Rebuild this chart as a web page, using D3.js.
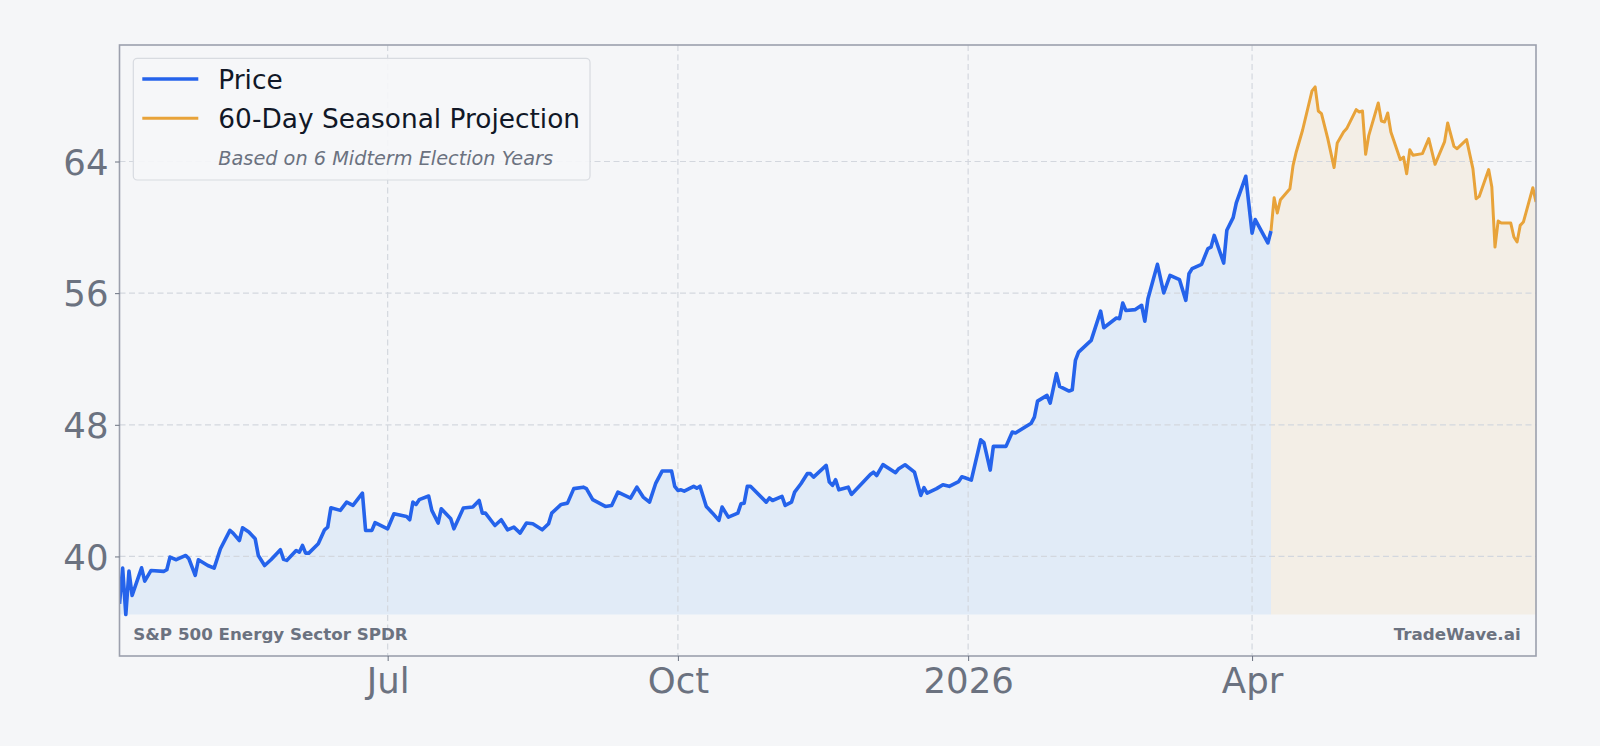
<!DOCTYPE html>
<html>
<head>
<meta charset="utf-8">
<script src="https://cdn.jsdelivr.net/npm/d3@7"></script>
<style>
  html, body { margin: 0; padding: 0; background: #f5f6f8; }
  svg { display: block; font-family: "DejaVu Sans", sans-serif; }
</style>
</head>
<body>
<div id="chart"></div>
<script>
const width = 1600, height = 746;

const startDate = new Date(2025, 3, 7); // first session shown

// Price: calendar-day offset from startDate, close
const priceDay = [
  0, 1, 2, 3, 4, 7, 8, 10, 14, 15, 16, 18, 21, 22, 24, 25, 28, 30, 32, 35,
  36, 38, 39, 41, 43, 44, 46, 48, 51, 52, 53, 56, 57, 58, 59, 60, 63, 65, 66, 67,
  70, 72, 74, 77, 78, 80, 81, 85, 87, 91, 92, 93, 94, 95, 98, 99, 101, 102, 105, 106,
  109, 112, 114, 115, 116, 119, 121, 123, 125, 127, 129, 131, 134, 136, 137, 140, 142, 144, 147, 148,
  150, 154, 156, 158, 162, 164, 166, 168, 170, 172, 175, 176, 177, 178, 179, 182, 183, 184, 186, 188,
  190, 191, 193, 196, 197, 198, 199, 200, 205, 206, 207, 210, 211, 213, 214, 216, 218, 219, 220, 224,
  225, 226, 227, 228, 231, 232, 238, 239, 240, 242, 246, 247, 249, 252, 254, 255, 256, 259, 261, 263,
  266, 267, 268, 270, 273, 274, 276, 277, 281, 283, 284, 289, 290, 291, 294, 295, 297, 298, 301, 302,
  303, 304, 308, 311, 312, 316, 317, 318, 319, 322, 324, 325, 326, 329, 331, 333, 336, 338, 339, 340,
  343, 345, 346, 347, 350, 351, 353, 354, 357, 359, 360, 364, 365
];
const priceValue = [
  37.12, 39.29, 36.47, 39.11, 37.63, 39.31, 38.50, 39.15, 39.09, 39.19, 39.96, 39.80, 40.06, 39.86, 38.85, 39.80, 39.45, 39.29, 40.47, 41.58,
  41.42, 40.97, 41.74, 41.48, 41.08, 40.06, 39.45, 39.80, 40.41, 39.82, 39.76, 40.36, 40.26, 40.67, 40.20, 40.20, 40.77, 41.62, 41.78, 42.96,
  42.80, 43.30, 43.10, 43.85, 41.58, 41.58, 42.05, 41.68, 42.59, 42.43, 42.23, 43.30, 43.16, 43.45, 43.67, 42.80, 42.03, 42.90, 42.29, 41.68,
  42.94, 43.00, 43.40, 42.63, 42.63, 41.88, 42.23, 41.62, 41.78, 41.42, 42.03, 41.99, 41.62, 41.99, 42.63, 43.16, 43.24, 44.12, 44.21, 44.12,
  43.45, 43.04, 43.10, 43.91, 43.55, 44.21, 43.61, 43.30, 44.46, 45.19, 45.19, 44.26, 44.01, 44.05, 43.97, 44.26, 44.15, 44.27, 43.04, 42.63,
  42.19, 43.00, 42.39, 42.63, 43.20, 43.24, 44.26, 44.26, 43.30, 43.55, 43.40, 43.65, 43.10, 43.30, 43.91, 44.42, 45.03, 45.03, 44.82, 45.53,
  44.52, 44.32, 44.66, 44.05, 44.21, 43.77, 44.98, 45.12, 44.92, 45.58, 45.09, 45.33, 45.57, 45.12, 43.71, 44.18, 43.85, 44.12, 44.36, 44.26,
  44.55, 44.84, 44.78, 44.64, 47.09, 46.92, 45.25, 46.69, 46.69, 47.56, 47.50, 48.10, 48.47, 49.44, 49.79, 49.32, 51.11, 50.33, 50.05, 50.13,
  51.91, 52.42, 53.13, 54.91, 53.90, 54.49, 54.45, 55.40, 54.95, 55.00, 55.26, 54.30, 55.66, 57.75, 56.01, 57.08, 56.82, 55.56, 57.18, 57.49,
  57.75, 58.71, 58.80, 59.51, 57.83, 59.82, 60.59, 61.48, 63.10, 59.65, 60.47, 59.05, 59.78
];

// 60-day seasonal projection (based on 6 midterm election years)
const projDay = [
  365, 366, 367, 368, 371, 372, 373, 375, 378, 379, 380, 381, 383, 385, 386, 388, 389, 392, 393, 394,
  395, 396, 399, 400, 401, 402, 403, 406, 407, 408, 409, 410, 413, 415, 417, 420, 421, 423, 424, 427,
  429, 430, 431, 434, 435, 436, 437, 438, 441, 442, 443, 444, 445, 448, 449
];
const projValue = [
  59.78, 61.80, 60.87, 61.68, 62.35, 63.77, 64.58, 65.90, 68.29, 68.53, 67.07, 66.91, 65.39, 63.63, 65.13, 65.79, 66.00, 67.15, 67.01, 67.07,
  64.44, 65.59, 67.56, 66.46, 66.40, 66.95, 65.79, 64.11, 64.27, 63.26, 64.72, 64.38, 64.48, 65.39, 63.83, 65.19, 66.34, 64.92, 64.78, 65.33,
  63.57, 61.74, 61.88, 63.51, 62.45, 58.80, 60.38, 60.26, 60.26, 59.41, 59.11, 60.12, 60.32, 62.41, 61.54
];

const yTickValues = [40, 48, 56, 64];
const xTickDates = [new Date(2025, 6, 1), new Date(2025, 9, 1), new Date(2026, 0, 1), new Date(2026, 3, 1)];
const xTickLabels = ["Jul", "Oct", "2026", "Apr"];
const yLimits = [33.95, 71.08];

const priceColor = "#2563eb", projColor = "#e8a33a", textGray = "#6b7280";

// plot box
const plotLeft = 119.5, plotRight = 1536, plotTop = 45, plotBottom = 656;

const toDate = d => d3.timeDay.offset(startDate, d);
const price = priceDay.map((d, i) => ({ date: toDate(d), value: priceValue[i] }));
const proj = projDay.map((d, i) => ({ date: toDate(d), value: projValue[i] }));

const x = d3.scaleTime()
    .domain([startDate, toDate(d3.max(projDay))])
    .range([plotLeft, plotRight]);

const y = d3.scaleLinear()
    .domain(yLimits)
    .range([plotBottom, plotTop]);

const svg = d3.select("#chart")
    .append("svg")
    .attr("width", width)
    .attr("height", height)
    .attr("viewBox", [0, 0, width, height]);

svg.append("rect").attr("width", width).attr("height", height).attr("fill", "#f5f6f8");

svg.append("clipPath").attr("id", "plot")
    .append("rect")
    .attr("x", plotLeft).attr("y", plotTop)
    .attr("width", plotRight - plotLeft).attr("height", plotBottom - plotTop);

const g = svg.append("g").attr("clip-path", "url(#plot)");

// fills go down to the lowest close
const base = d3.min(priceValue);
const area = d3.area()
    .x(d => x(d.date))
    .y0(y(base))
    .y1(d => y(d.value));

g.append("path").attr("fill", "#e1ebf7").attr("d", area(price));
g.append("path").attr("fill", "#f3eee6").attr("d", area(proj));

// grid
g.selectAll(".hgrid").data(yTickValues).join("line")
    .attr("x1", plotLeft).attr("x2", plotRight)
    .attr("y1", d => y(d)).attr("y2", d => y(d))
    .attr("stroke", "#d3d7de").attr("stroke-width", 1.2).attr("stroke-dasharray", "6,3.5");

g.selectAll(".vgrid").data(xTickDates).join("line")
    .attr("x1", d => x(d)).attr("x2", d => x(d))
    .attr("y1", plotTop).attr("y2", plotBottom)
    .attr("stroke", "#d3d7de").attr("stroke-width", 1.2).attr("stroke-dasharray", "6,3.5");

const line = d3.line()
    .x(d => x(d.date))
    .y(d => y(d.value));

g.append("path").attr("fill", "none").attr("stroke", projColor)
    .attr("stroke-width", 3).attr("stroke-linejoin", "round")
    .attr("d", line(proj));

g.append("path").attr("fill", "none").attr("stroke", priceColor)
    .attr("stroke-width", 3.6).attr("stroke-linejoin", "round")
    .attr("d", line(price));

// frame
svg.append("rect")
    .attr("x", plotLeft).attr("y", plotTop)
    .attr("width", plotRight - plotLeft).attr("height", plotBottom - plotTop)
    .attr("fill", "none").attr("stroke", "#9ca0ad").attr("stroke-width", 1.6);

// axes
const yAxis = svg.append("g")
    .attr("transform", `translate(${plotLeft},0)`)
    .call(d3.axisLeft(y).tickValues(yTickValues).tickSize(4.5).tickPadding(6.5));

const xAxis = svg.append("g")
    .attr("transform", `translate(0,${plotBottom})`)
    .call(d3.axisBottom(x).tickValues(xTickDates).tickFormat((d, i) => xTickLabels[i]).tickSize(5).tickPadding(7));

[yAxis, xAxis].forEach(ax => {
    ax.select(".domain").remove();
    ax.selectAll("line").attr("stroke", textGray);
    ax.selectAll("text")
        .attr("fill", textGray)
        .style("font-family", "DejaVu Sans")
        .style("font-size", "35.5px");
});
yAxis.selectAll("text").attr("dy", "0.36em");

// legend
const legend = svg.append("g");
legend.append("rect")
    .attr("x", 133.3).attr("y", 58.3).attr("width", 456.7).attr("height", 121.7)
    .attr("rx", 4)
    .attr("fill", "#f5f6f8").attr("fill-opacity", 0.92)
    .attr("stroke", "#d8dbe0").attr("stroke-width", 1.2);

const entries = [
    { label: "Price", color: priceColor, width: 3.6, y: 79 },
    { label: "60-Day Seasonal Projection", color: projColor, width: 3, y: 118.3 }
];
entries.forEach(e => {
    legend.append("line")
        .attr("x1", 142.3).attr("x2", 198.3)
        .attr("y1", e.y).attr("y2", e.y)
        .attr("stroke", e.color).attr("stroke-width", e.width);
    legend.append("text")
        .attr("x", 218.3).attr("y", e.y + 10)
        .attr("fill", "#111827")
        .style("font-size", "26.4px")
        .text(e.label);
});
legend.append("text")
    .attr("x", 218.3).attr("y", 165)
    .attr("fill", textGray)
    .style("font-size", "19.3px")
    .style("font-style", "italic")
    .text("Based on 6 Midterm Election Years");

// footer labels inside the plot
svg.append("text")
    .attr("x", 133.3).attr("y", 640)
    .attr("fill", textGray)
    .style("font-size", "16.7px").style("font-weight", "bold")
    .text("S&P 500 Energy Sector SPDR");

svg.append("text")
    .attr("x", 1520.7).attr("y", 640)
    .attr("text-anchor", "end")
    .attr("fill", textGray)
    .style("font-size", "16.7px").style("font-weight", "bold")
    .text("TradeWave.ai");
</script>
</body>
</html>
